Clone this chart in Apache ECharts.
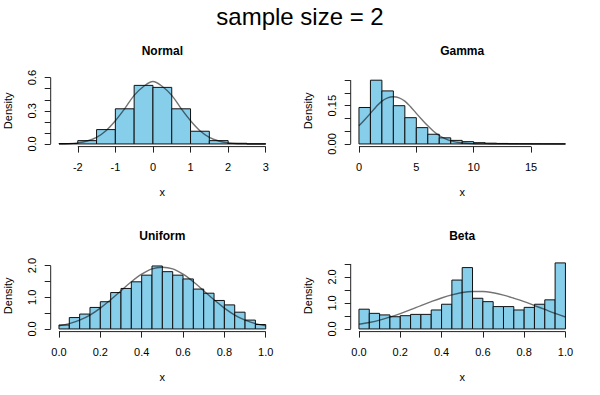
<!DOCTYPE html>
<html><head><meta charset="utf-8">
<script src="https://cdn.jsdelivr.net/npm/echarts@6/dist/echarts.min.js"></script>
<style>html,body{margin:0;padding:0;background:#fff}#c{width:600px;height:395px}</style>
</head><body><div id="c"></div>
<script>
// ---------- data ----------
var mainTitle = 'sample size = 2';
var panelTitles = ['Normal', 'Gamma', 'Uniform', 'Beta'];

var normalBreaks = [-2.5, -2, -1.5, -1, -0.5, 0, 0.5, 1, 1.5, 2, 2.5, 3];
var normalDensity = [0.004, 0.03, 0.13, 0.318, 0.53, 0.512, 0.318, 0.115, 0.03, 0.006, 0.001];
var normalCurveX = [-2.5, -2.25, -2, -1.75, -1.5, -1.25, -1, -0.75, -0.5, -0.25, 0, 0.25, 0.5, 0.75, 1, 1.25, 1.5, 1.75, 2, 2.25, 2.5, 2.75, 3];
var normalCurveY = [0.0002, 0.0018, 0.01, 0.027, 0.06, 0.12, 0.21, 0.32, 0.44, 0.52, 0.565, 0.52, 0.44, 0.32, 0.21, 0.12, 0.06, 0.027, 0.01, 0.0018, 0.0002, 0.0001, 0];
var normalXTicks = [-2, -1, 0, 1, 2, 3];
var normalYTicks = [0, 0.1, 0.2, 0.3, 0.4, 0.5, 0.6];
var normalYLabels = [0, 0.3, 0.6];

var gammaBreaks = [0, 1, 2, 3, 4, 5, 6, 7, 8, 9, 10, 11, 12, 13, 14, 15, 16, 17, 18];
var gammaDensity = [0.143, 0.25, 0.208, 0.15, 0.103, 0.064, 0.038, 0.024, 0.014, 0.009, 0.005, 0.003, 0.002, 0.001, 0.0008, 0.0005, 0.0003, 0.0002];
var gammaCurveX = [0, 0.5, 1, 1.5, 2, 2.5, 3, 3.5, 4, 4.5, 5, 5.5, 6, 6.5, 7, 7.5, 8, 9, 10, 11, 12, 14, 16, 18];
var gammaCurveY = [0.071, 0.095, 0.12, 0.146, 0.168, 0.181, 0.185, 0.181, 0.168, 0.146, 0.12, 0.095, 0.071, 0.05, 0.033, 0.021, 0.012, 0.0037, 0.0009, 0.0002, 0, 0, 0, 0];
var gammaXTicks = [0, 5, 10, 15];
var gammaYTicks = [0, 0.05, 0.1, 0.15, 0.2, 0.25];
var gammaYLabels = [0, 0.15];

var uniformBreaks = [0, 0.05, 0.1, 0.15, 0.2, 0.25, 0.3, 0.35, 0.4, 0.45, 0.5, 0.55, 0.6, 0.65, 0.7, 0.75, 0.8, 0.85, 0.9, 0.95, 1];
var uniformDensity = [0.126, 0.36, 0.47, 0.68, 0.86, 1.15, 1.28, 1.49, 1.7, 1.99, 1.81, 1.7, 1.58, 1.26, 1.13, 0.9, 0.76, 0.53, 0.28, 0.14];
var uniformCurveX = [0, 0.05, 0.1, 0.15, 0.2, 0.25, 0.3, 0.35, 0.4, 0.45, 0.5, 0.55, 0.6, 0.65, 0.7, 0.75, 0.8, 0.85, 0.9, 0.95, 1];
var uniformCurveY = [0.097, 0.17, 0.28, 0.44, 0.66, 0.92, 1.21, 1.49, 1.73, 1.9, 1.95, 1.9, 1.73, 1.49, 1.21, 0.92, 0.66, 0.44, 0.28, 0.17, 0.097];
var unitXTicks = [0, 0.2, 0.4, 0.6, 0.8, 1];
var uniformYTicks = [0, 0.5, 1, 1.5, 2];
var uniformYLabels = [0, 1, 2];

var betaBreaks = [0, 0.05, 0.1, 0.15, 0.2, 0.25, 0.3, 0.35, 0.4, 0.45, 0.5, 0.55, 0.6, 0.65, 0.7, 0.75, 0.8, 0.85, 0.9, 0.95, 1];
var betaDensity = [0.76, 0.6, 0.54, 0.47, 0.51, 0.56, 0.56, 0.73, 0.95, 1.88, 2.36, 1.18, 1.05, 0.86, 0.86, 0.73, 0.83, 0.95, 1.12, 2.54];
var betaCurveX = [0, 0.05, 0.1, 0.15, 0.2, 0.25, 0.3, 0.35, 0.4, 0.45, 0.5, 0.55, 0.6, 0.65, 0.7, 0.75, 0.8, 0.85, 0.9, 0.95, 1];
var betaCurveY = [0.18, 0.25, 0.34, 0.46, 0.59, 0.74, 0.9, 1.05, 1.19, 1.31, 1.4, 1.44, 1.44, 1.39, 1.3, 1.18, 1.05, 0.9, 0.75, 0.6, 0.46];
var betaYTicks = [0, 0.5, 1, 1.5, 2, 2.5];
var betaYLabels = [0, 1, 2];

// ---------- layout / style ----------
var FONT = '"Liberation Sans", Arial, Helvetica, sans-serif';
var panels = [
  {title: panelTitles[0], breaks: normalBreaks, dens: normalDensity, cx: normalCurveX, cy: normalCurveY,
   xTicks: normalXTicks, yTicks: normalYTicks, yLabels: normalYLabels, xFmt: function (v) { return String(v); }, yFmt: function (v) { return v.toFixed(1); },
   xlim: [-2.72, 3.22], ylim: [-0.024, 0.624], left: 50.7, top: 75, width: 223.3, height: 71.6},
  {title: panelTitles[1], breaks: gammaBreaks, dens: gammaDensity, cx: gammaCurveX, cy: gammaCurveY,
   xTicks: gammaXTicks, yTicks: gammaYTicks, yLabels: gammaYLabels, xFmt: function (v) { return String(v); }, yFmt: function (v) { return v.toFixed(2); },
   xlim: [-0.72, 18.72], ylim: [-0.0104, 0.2704], left: 350.7, top: 75, width: 223, height: 71.6},
  {title: panelTitles[2], breaks: uniformBreaks, dens: uniformDensity, cx: uniformCurveX, cy: uniformCurveY,
   xTicks: unitXTicks, yTicks: uniformYTicks, yLabels: uniformYLabels, xFmt: function (v) { return v.toFixed(1); }, yFmt: function (v) { return v.toFixed(1); },
   xlim: [-0.04, 1.04], ylim: [-0.0838, 2.1788], left: 50.7, top: 260, width: 223.3, height: 71.6},
  {title: panelTitles[3], breaks: betaBreaks, dens: betaDensity, cx: betaCurveX, cy: betaCurveY,
   xTicks: unitXTicks, yTicks: betaYTicks, yLabels: betaYLabels, xFmt: function (v) { return v.toFixed(1); }, yFmt: function (v) { return v.toFixed(1); },
   xlim: [-0.04, 1.04], ylim: [-0.102, 2.652], left: 350.7, top: 260, width: 223, height: 71.6}
];

var grids = [], xAxes = [], yAxes = [], series = [], graphics = [];

graphics.push({type: 'text', x: 300, y: 16, style: {text: mainTitle, fontSize: 24, fontFamily: FONT, fill: '#000', align: 'center', verticalAlign: 'middle'}});

panels.forEach(function (p, i) {
  grids.push({left: p.left, top: p.top, width: p.width, height: p.height, containLabel: false});
  xAxes.push({
    type: 'value', gridIndex: i, min: p.xlim[0], max: p.xlim[1], position: 'bottom',
    axisLine: {show: false, onZero: false}, splitLine: {show: false},
    axisTick: {show: true, length: 6, customValues: p.xTicks, lineStyle: {color: '#222', width: 1}},
    axisLabel: {show: true, customValues: p.xTicks, margin: 15, fontSize: 11, fontFamily: FONT, color: '#000', formatter: p.xFmt}
  });
  yAxes.push({
    type: 'value', gridIndex: i, min: p.ylim[0], max: p.ylim[1], position: 'left',
    axisLine: {show: false, onZero: false}, splitLine: {show: false},
    axisTick: {show: true, length: 6, customValues: p.yTicks, lineStyle: {color: '#222', width: 1}},
    axisLabel: {show: true, customValues: p.yLabels, rotate: 90, margin: 13, fontSize: 11, fontFamily: FONT, color: '#000', formatter: p.yFmt}
  });

  // histogram bars
  var bars = p.dens.map(function (d, k) { return [p.breaks[k], p.breaks[k + 1], d]; });
  series.push({
    type: 'custom', xAxisIndex: i, yAxisIndex: i, data: bars, silent: true, z: 2,
    encode: {x: [0, 1], y: 2},
    renderItem: function (params, api) {
      var a = api.coord([api.value(0), api.value(2)]);
      var b = api.coord([api.value(1), 0]);
      return {type: 'rect', shape: {x: a[0], y: a[1], width: b[0] - a[0], height: b[1] - a[1]},
        style: {fill: '#87CEEB', stroke: '#111', lineWidth: 1}};
    }
  });

  // density curve
  series.push({
    type: 'line', xAxisIndex: i, yAxisIndex: i, z: 3, silent: true,
    data: p.cx.map(function (x, k) { return [x, p.cy[k]]; }),
    smooth: 0.35, showSymbol: false, symbol: 'none',
    lineStyle: {color: 'rgba(0,0,0,0.55)', width: 1.4}
  });

  // axis lines (R style: from first tick to last tick)
  series.push({
    type: 'line', xAxisIndex: i, yAxisIndex: i, z: 1, silent: true, clip: false, symbol: 'none',
    data: [[p.xTicks[0], p.ylim[0]], [p.xTicks[p.xTicks.length - 1], p.ylim[0]]],
    lineStyle: {color: '#222', width: 1}
  });
  series.push({
    type: 'line', xAxisIndex: i, yAxisIndex: i, z: 1, silent: true, clip: false, symbol: 'none',
    data: [[p.xlim[0], p.yTicks[0]], [p.xlim[0], p.yTicks[p.yTicks.length - 1]]],
    lineStyle: {color: '#222', width: 1}
  });

  var cx = p.left + p.width / 2;
  var cy = p.top + p.height / 2;
  graphics.push({type: 'text', x: cx, y: p.top - 24.2, style: {text: p.title, fontSize: 12, fontWeight: 'bold', fontFamily: FONT, fill: '#000', align: 'center', verticalAlign: 'middle'}});
  graphics.push({type: 'text', x: cx, y: p.top + p.height + 45, style: {text: 'x', fontSize: 11, fontFamily: FONT, fill: '#000', align: 'center', verticalAlign: 'middle'}});
  graphics.push({type: 'text', x: p.left - 42.5, y: cy, rotation: Math.PI / 2, style: {text: 'Density', fontSize: 11, fontFamily: FONT, fill: '#000', align: 'center', verticalAlign: 'middle'}});
});

var chart = echarts.init(document.getElementById('c'), null, {renderer: 'svg'});
chart.setOption({
  animation: false,
  backgroundColor: '#fff',
  grid: grids, xAxis: xAxes, yAxis: yAxes, series: series, graphic: graphics
});
</script>
</body></html>
